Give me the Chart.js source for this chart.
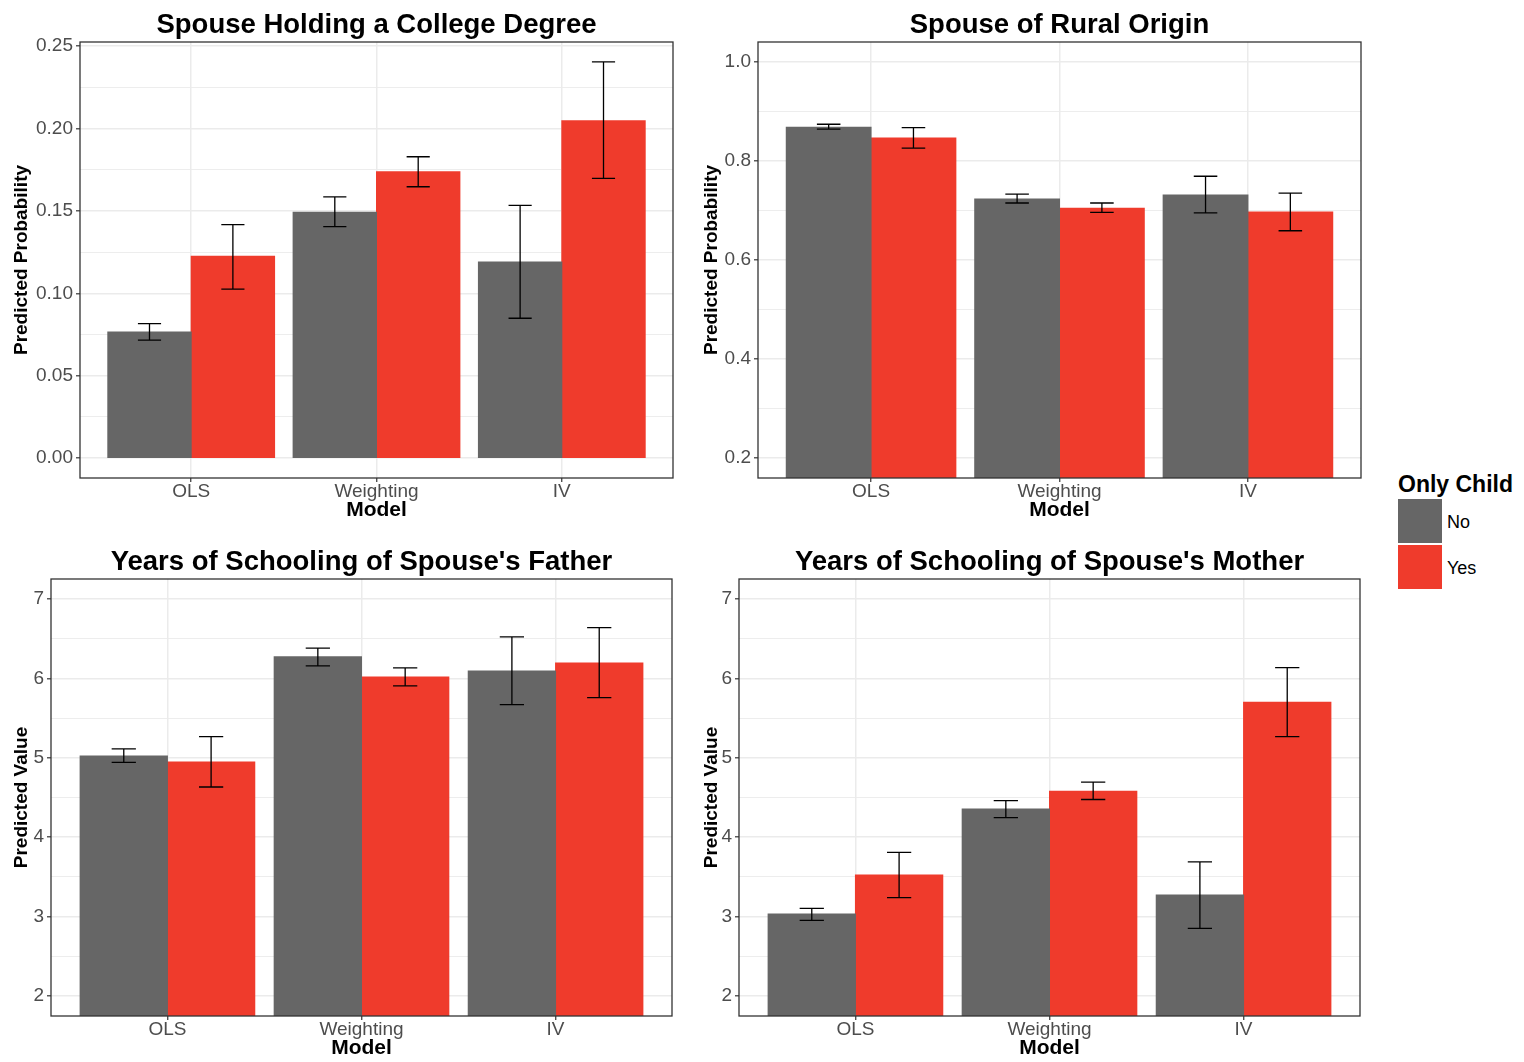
<!DOCTYPE html>
<html>
<head>
<meta charset="utf-8">
<title>Only Child - Spouse Outcomes</title>
<script src="https://cdn.jsdelivr.net/npm/chart.js@4.4.0/dist/chart.umd.min.js"></script>
<style>
  body { margin: 0; background: #fff; width: 1524px; height: 1062px; position: relative; overflow: hidden; font-family: "Liberation Sans", Arial, sans-serif; }
  canvas { position: absolute; }
  .lg-title { position: absolute; left: 1398px; top: 473px; font-size: 23px; line-height: 23px; font-weight: bold; color: #000; white-space: nowrap; }
  .lg-key { position: absolute; left: 1398px; width: 44px; height: 44px; }
  .lg-label { position: absolute; left: 1447px; font-size: 18px; line-height: 18px; color: #000; }
</style>
</head>
<body>
<canvas id="college" width="690" height="521" style="left:0;top:0"></canvas>
<canvas id="rural" width="690" height="521" style="left:690px;top:0"></canvas>
<canvas id="father" width="690" height="522" style="left:0;top:537px"></canvas>
<canvas id="mother" width="690" height="522" style="left:690px;top:537px"></canvas>

<div class="lg-title">Only Child</div>
<div class="lg-key" style="top:499px;background:#666666"></div>
<div class="lg-key" style="top:545px;background:#EF3B2C"></div>
<div class="lg-label" style="top:513px">No</div>
<div class="lg-label" style="top:559px">Yes</div>

<script>
const models = ['OLS', 'Weighting', 'IV'];

// Spouse Holding a College Degree
const collegeNo = [0.0766, 0.1492, 0.1190];
const collegeNoLow = [0.0716, 0.1405, 0.0849];
const collegeNoHigh = [0.0816, 0.1585, 0.1534];
const collegeYes = [0.1226, 0.1738, 0.2048];
const collegeYesLow = [0.1026, 0.1647, 0.1698];
const collegeYesHigh = [0.1417, 0.1829, 0.2405];
const collegeTicks = [0, 0.05, 0.10, 0.15, 0.20, 0.25];

// Spouse of Rural Origin
const ruralNo = [0.868, 0.723, 0.731];
const ruralNoLow = [0.864, 0.715, 0.695];
const ruralNoHigh = [0.874, 0.733, 0.769];
const ruralYes = [0.846, 0.7045, 0.697];
const ruralYesLow = [0.826, 0.696, 0.659];
const ruralYesHigh = [0.867, 0.715, 0.735];
const ruralTicks = [0.2, 0.4, 0.6, 0.8, 1.0];

// Years of Schooling of Spouse's Father
const fatherNo = [5.023, 6.270, 6.093];
const fatherNoLow = [4.943, 6.156, 5.669];
const fatherNoHigh = [5.111, 6.379, 6.521];
const fatherYes = [4.947, 6.018, 6.194];
const fatherYesLow = [4.632, 5.904, 5.757];
const fatherYesHigh = [5.266, 6.131, 6.639];

// Years of Schooling of Spouse's Mother
const motherNo = [3.033, 4.355, 3.272];
const motherNoLow = [2.953, 4.247, 2.852];
const motherNoHigh = [3.104, 4.460, 3.690];
const motherYes = [3.524, 4.580, 5.699];
const motherYesLow = [3.241, 4.475, 5.267];
const motherYesHigh = [3.810, 4.694, 6.135];
const schoolTicks = [2, 3, 4, 5, 6, 7];

const FONT = '"Liberation Sans", Arial, sans-serif';
const colNo = '#666666';
const colYes = '#EF3B2C';
const capShare = 0.125 / 0.45; // errorbar width relative to one dodged bar

// ggplot style 5% expansion
function expand(lo, hi) {
    const d = (hi - lo) * 0.05;
    return [lo - d, hi + d];
}

// error bars, panel border and title
const panelPlugin = {
    id: 'panel',
    afterDatasetsDraw(chart) {
        const { ctx, scales: { y } } = chart;
        ctx.save();
        ctx.strokeStyle = '#000000';
        ctx.lineWidth = 1.3;
        chart.data.datasets.forEach((ds, di) => {
            chart.getDatasetMeta(di).data.forEach((bar, i) => {
                const top = y.getPixelForValue(ds.high[i]);
                const bottom = y.getPixelForValue(ds.low[i]);
                const half = bar.width * capShare / 2;
                ctx.beginPath();
                ctx.moveTo(bar.x, top); ctx.lineTo(bar.x, bottom);
                ctx.moveTo(bar.x - half, top); ctx.lineTo(bar.x + half, top);
                ctx.moveTo(bar.x - half, bottom); ctx.lineTo(bar.x + half, bottom);
                ctx.stroke();
            });
        });
        ctx.restore();
    },
    afterDraw(chart, args, opts) {
        const { ctx, chartArea: a } = chart;
        ctx.save();
        ctx.strokeStyle = '#333333';
        ctx.lineWidth = 1.3;
        ctx.strokeRect(a.left, a.top, a.right - a.left, a.bottom - a.top);
        ctx.fillStyle = '#000000';
        ctx.font = 'bold 27.5px ' + FONT;
        ctx.textAlign = 'center';
        ctx.textBaseline = 'alphabetic';
        ctx.fillText(opts.title, (a.left + a.right) / 2, a.top - 9);
        ctx.restore();
    }
};

function makeChart(id, p) {
    const step = p.ticks[1] - p.ticks[0];
    const tickValues = [];
    p.ticks.forEach((t, i) => {
        tickValues.push(t);
        if (i < p.ticks.length - 1) tickValues.push(t + step / 2);
    });
    const isMajor = v => p.ticks.some(t => Math.abs(t - v) < 1e-9);

    return new Chart(document.getElementById(id), {
        type: 'bar',
        data: {
            datasets: [
                {
                    label: 'No',
                    data: models.map((m, i) => ({ x: i + 1, y: p.no[i] })),
                    low: p.noLow, high: p.noHigh,
                    backgroundColor: colNo
                },
                {
                    label: 'Yes',
                    data: models.map((m, i) => ({ x: i + 1, y: p.yes[i] })),
                    low: p.yesLow, high: p.yesHigh,
                    backgroundColor: colYes
                }
            ]
        },
        options: {
            responsive: false,
            animation: false,
            datasets: { bar: { barPercentage: 1, categoryPercentage: 0.9, borderWidth: 0, inflateAmount: 0.5 } },
            layout: { padding: { top: 42, left: 0, right: p.padRight, bottom: 0 } },
            plugins: {
                legend: { display: false },
                tooltip: { enabled: false },
                panel: { title: p.title }
            },
            scales: {
                x: {
                    type: 'linear',
                    min: 1 - 0.6, max: models.length + 0.6,
                    bounds: 'data', offset: false,
                    afterBuildTicks: s => { s.ticks = models.map((m, i) => ({ value: i + 1 })); },
                    afterFit: s => { s.height = 43; },
                    ticks: {
                        callback: v => models[v - 1],
                        color: '#4D4D4D', font: { family: FONT, size: 19, lineHeight: 1 },
                        padding: 0, maxRotation: 0, autoSkip: false
                    },
                    grid: { offset: false, color: '#EBEBEB', lineWidth: 1.5, tickColor: '#333333', tickLength: 4, tickWidth: 1.2 },
                    border: { display: false },
                    title: { display: true, text: 'Model', color: '#000', font: { family: FONT, size: 21, weight: 'bold', lineHeight: 1 }, padding: 0 }
                },
                y: {
                    min: p.range[0], max: p.range[1], bounds: 'data',
                    afterBuildTicks: s => { s.ticks = tickValues.map(v => ({ value: v })); },
                    afterFit: s => { s.width = p.axisWidth; },
                    ticks: {
                        callback: v => isMajor(v) ? v.toFixed(p.decimals) : '',
                        color: '#4D4D4D', font: { family: FONT, size: 19, lineHeight: 1 },
                        padding: 3, autoSkip: false
                    },
                    grid: {
                        color: '#EBEBEB',
                        lineWidth: c => isMajor(c.tick.value) ? 1.6 : 0.9,
                        tickColor: c => isMajor(c.tick.value) ? '#333333' : 'rgba(0,0,0,0)',
                        tickLength: 4, tickWidth: 1.2
                    },
                    border: { display: false },
                    title: { display: true, text: p.yTitle, color: '#000', font: { family: FONT, size: 19, weight: 'bold', lineHeight: 1 }, padding: { top: 12.5, bottom: 0 } }
                }
            }
        },
        plugins: [panelPlugin]
    });
}

makeChart('college', {
    title: 'Spouse Holding a College Degree', yTitle: 'Predicted Probability',
    no: collegeNo, noLow: collegeNoLow, noHigh: collegeNoHigh,
    yes: collegeYes, yesLow: collegeYesLow, yesHigh: collegeYesHigh,
    ticks: collegeTicks, decimals: 2,
    range: expand(Math.min(0, ...collegeNoLow, ...collegeYesLow), Math.max(...collegeNoHigh, ...collegeYesHigh)),
    axisWidth: 80, padRight: 17
});

makeChart('rural', {
    title: 'Spouse of Rural Origin', yTitle: 'Predicted Probability',
    no: ruralNo, noLow: ruralNoLow, noHigh: ruralNoHigh,
    yes: ruralYes, yesLow: ruralYesLow, yesHigh: ruralYesHigh,
    ticks: ruralTicks, decimals: 1,
    range: expand(ruralTicks[0], ruralTicks[ruralTicks.length - 1]),
    axisWidth: 68, padRight: 19
});

makeChart('father', {
    title: "Years of Schooling of Spouse's Father", yTitle: 'Predicted Value',
    no: fatherNo, noLow: fatherNoLow, noHigh: fatherNoHigh,
    yes: fatherYes, yesLow: fatherYesLow, yesHigh: fatherYesHigh,
    ticks: schoolTicks, decimals: 0,
    range: expand(schoolTicks[0], schoolTicks[schoolTicks.length - 1]),
    axisWidth: 51, padRight: 18
});

makeChart('mother', {
    title: "Years of Schooling of Spouse's Mother", yTitle: 'Predicted Value',
    no: motherNo, noLow: motherNoLow, noHigh: motherNoHigh,
    yes: motherYes, yesLow: motherYesLow, yesHigh: motherYesHigh,
    ticks: schoolTicks, decimals: 0,
    range: expand(schoolTicks[0], schoolTicks[schoolTicks.length - 1]),
    axisWidth: 49, padRight: 20
});
</script>
</body>
</html>
